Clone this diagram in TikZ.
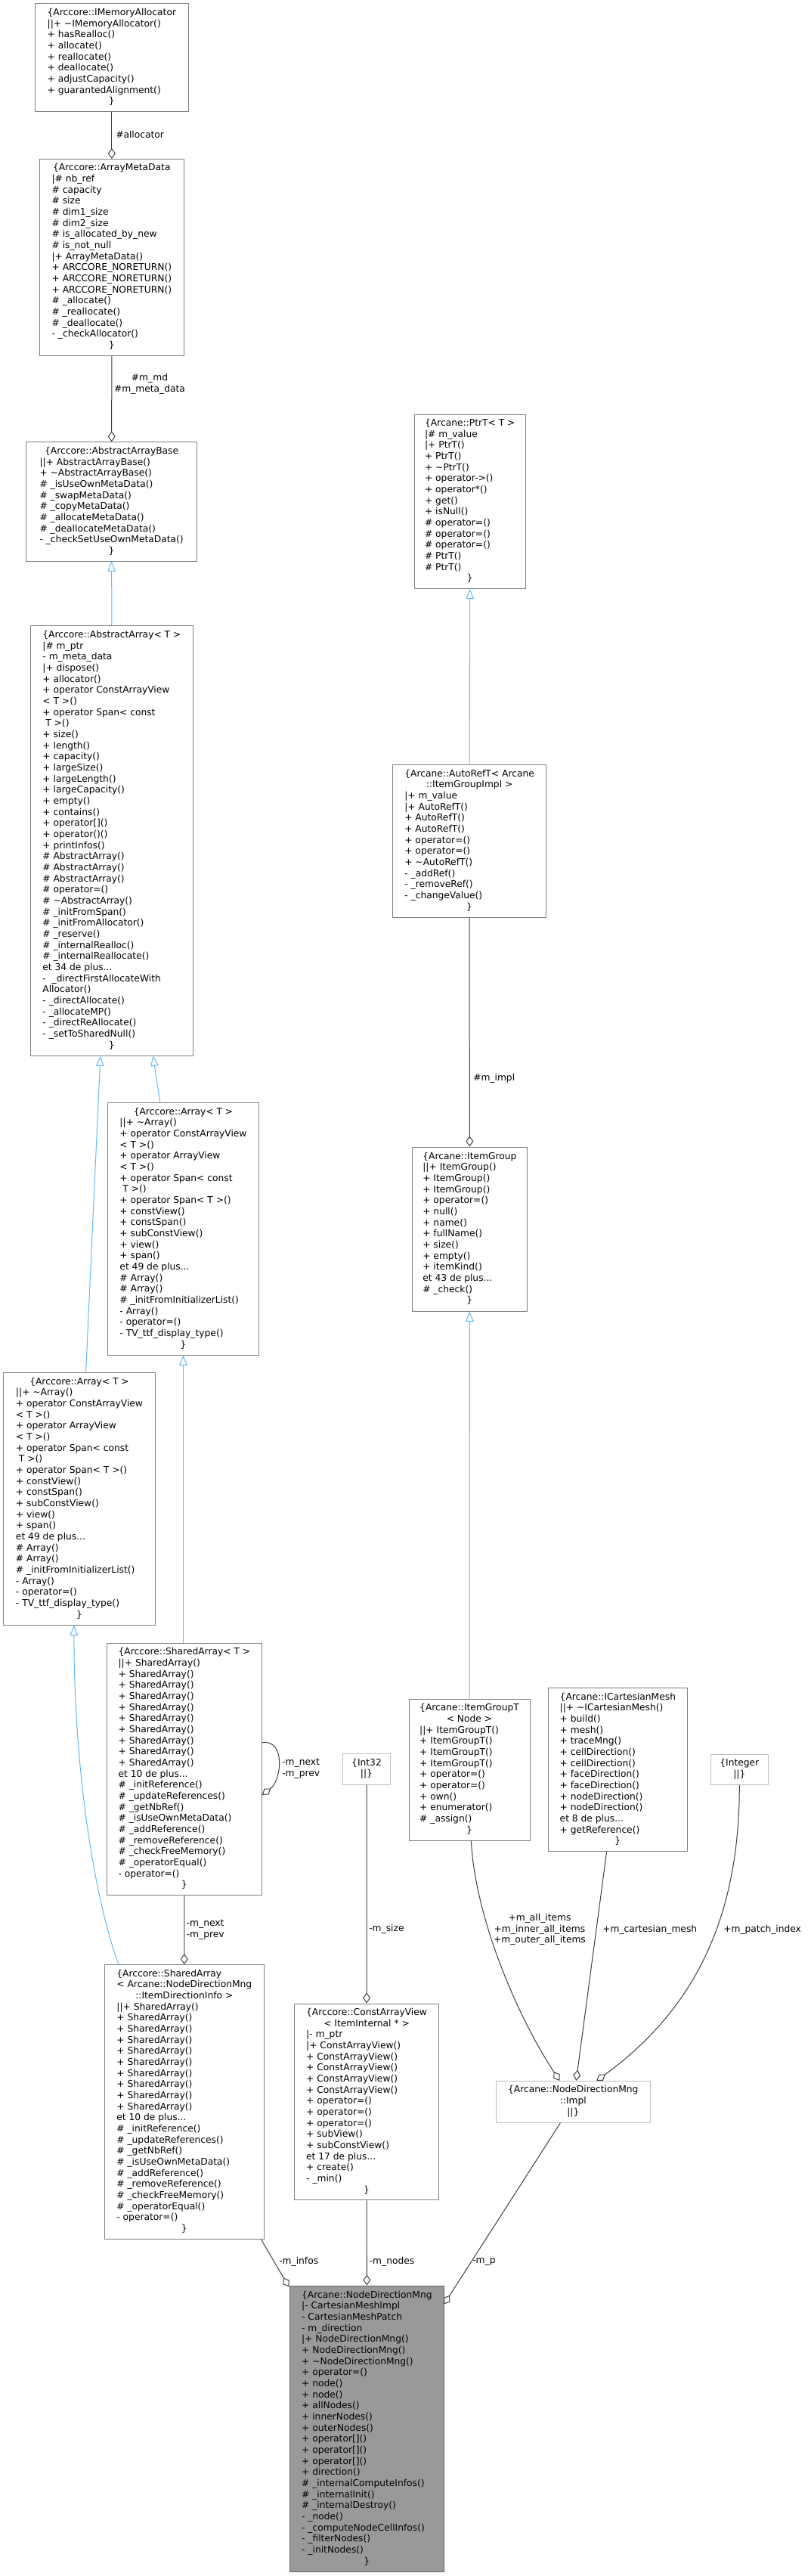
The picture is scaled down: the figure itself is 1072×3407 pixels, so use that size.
\documentclass[tikz,border=0pt]{standalone}
\usepackage{fontspec}
\setmainfont{DejaVu Sans}
\usetikzlibrary{arrows.meta,calc}
\definecolor{edgegray}{HTML}{404040}
\definecolor{inhblue}{HTML}{63B8FF}
\definecolor{boxline}{HTML}{808080}
\definecolor{lightline}{HTML}{BFBFBF}
\definecolor{ndmfill}{HTML}{999999}
\definecolor{ndmline}{HTML}{666666}
\newcommand{\hc}[1]{\multicolumn{1}{@{}c@{}}{#1}}
\newcommand{\tld}{\textasciitilde}
\newcommand{\cbeg}{\begin{tabular}{@{}l@{}}}
\newcommand{\cend}{\end{tabular}}
\tikzset{
  txtfont/.style={font=\fontsize{9.2}{11}\selectfont},
  cls/.style={draw=boxline, line width=0.75pt, fill=white, inner sep=0pt, txtfont, text=black},
  clsl/.style={cls, draw=lightline},
  clsf/.style={cls, draw=ndmline, fill=ndmfill},
  sz/.style 2 args={minimum width=#1*0.75pt, minimum height=#2*0.75pt},
  usage/.style={draw=edgegray, line width=0.75pt, -{Diamond[open,length=10.5pt,width=7.5pt]}},
  inherit/.style={draw=inhblue, line width=0.75pt, -{Triangle[open,length=10pt,width=8pt]}},
  lbl/.style={inner sep=0pt, txtfont, text=black}
}
\begin{document}
\begin{tikzpicture}[x=0.75pt,y=-0.75pt]
\path[use as bounding box, fill=white] (0,0) rectangle (1072,3407);

% ---------- boxes ----------
\node[cls, sz={202.9}{142.7}] (ima) at (147.85,76.35) {\cbeg
\hc{\{Arccore::IMemoryAllocator}\\
||+ \tld IMemoryAllocator()\\
+ hasRealloc()\\
+ allocate()\\
+ reallocate()\\
+ deallocate()\\
+ adjustCapacity()\\
+ guarantedAlignment()\\
\hc{\}}\cend};

\node[cls, sz={190.7}{259.5}] (amd) at (147.85,340.25) {\cbeg
\hc{\{Arccore::ArrayMetaData}\\
|\# nb\_ref\\
\# capacity\\
\# size\\
\# dim1\_size\\
\# dim2\_size\\
\# is\_allocated\_by\_new\\
\# is\_not\_null\\
|+ ArrayMetaData()\\
+ ARCCORE\_NORETURN()\\
+ ARCCORE\_NORETURN()\\
+ ARCCORE\_NORETURN()\\
\# \_allocate()\\
\# \_reallocate()\\
\# \_deallocate()\\
- \_checkAllocator()\\
\hc{\}}\cend};

\node[cls, sz={226.1}{157.2}] (aab) at (147.65,663.4) {\cbeg
\hc{\{Arccore::AbstractArrayBase}\\
||+ AbstractArrayBase()\\
+ \tld AbstractArrayBase()\\
\# \_isUseOwnMetaData()\\
\# \_swapMetaData()\\
\# \_copyMetaData()\\
\# \_allocateMetaData()\\
\# \_deallocateMetaData()\\
- \_checkSetUseOwnMetaData()\\
\hc{\}}\cend};

\node[cls, sz={215}{568.3}] (aa) at (147.9,1111.85) {\cbeg
\hc{\{Arccore::AbstractArray< T >}\\
|\# m\_ptr\\
- m\_meta\_data\\
|+ dispose()\\
+ allocator()\\
+ operator ConstArrayView\\
< T >()\\
+ operator Span< const\\
\ T >()\\
+ size()\\
+ length()\\
+ capacity()\\
+ largeSize()\\
+ largeLength()\\
+ largeCapacity()\\
+ empty()\\
+ contains()\\
+ operator[]()\\
+ operator()()\\
+ printInfos()\\
\# AbstractArray()\\
\# AbstractArray()\\
\# AbstractArray()\\
\# operator=()\\
\# \tld AbstractArray()\\
\# \_initFromSpan()\\
\# \_initFromAllocator()\\
\# \_reserve()\\
\# \_internalRealloc()\\
\# \_internalReallocate()\\
et 34 de plus...\\
- \ \_directFirstAllocateWith\\
Allocator()\\
- \_directAllocate()\\
- \_allocateMP()\\
- \_directReAllocate()\\
- \_setToSharedNull()\\
\hc{\}}\cend};

\node[cls, sz={200}{333.7}] (arrR) at (242.5,1625.15) {\cbeg
\hc{\{Arccore::Array< T >}\\
||+ \tld Array()\\
+ operator ConstArrayView\\
< T >()\\
+ operator ArrayView\\
< T >()\\
+ operator Span< const\\
\ T >()\\
+ operator Span< T >()\\
+ constView()\\
+ constSpan()\\
+ subConstView()\\
+ view()\\
+ span()\\
et 49 de plus...\\
\# Array()\\
\# Array()\\
\# \_initFromInitializerList()\\
- Array()\\
- operator=()\\
- TV\_ttf\_display\_type()\\
\hc{\}}\cend};

\node[cls, sz={200.8}{333.7}] (arrL) at (105,1982.15) {\cbeg
\hc{\{Arccore::Array< T >}\\
||+ \tld Array()\\
+ operator ConstArrayView\\
< T >()\\
+ operator ArrayView\\
< T >()\\
+ operator Span< const\\
\ T >()\\
+ operator Span< T >()\\
+ constView()\\
+ constSpan()\\
+ subConstView()\\
+ view()\\
+ span()\\
et 49 de plus...\\
\# Array()\\
\# Array()\\
\# \_initFromInitializerList()\\
- Array()\\
- operator=()\\
- TV\_ttf\_display\_type()\\
\hc{\}}\cend};

\node[cls, sz={205}{333.3}] (saT) at (243.9,2339.75) {\cbeg
\hc{\{Arccore::SharedArray< T >}\\
||+ SharedArray()\\
+ SharedArray()\\
+ SharedArray()\\
+ SharedArray()\\
+ SharedArray()\\
+ SharedArray()\\
+ SharedArray()\\
+ SharedArray()\\
+ SharedArray()\\
+ SharedArray()\\
et 10 de plus...\\
\# \_initReference()\\
\# \_updateReferences()\\
\# \_getNbRef()\\
\# \_isUseOwnMetaData()\\
\# \_addReference()\\
\# \_removeReference()\\
\# \_checkFreeMemory()\\
\# \_operatorEqual()\\
- operator=()\\
\hc{\}}\cend};

\node[cls, sz={210.4}{362.8}] (saI) at (243.8,2780) {\cbeg
\{Arccore::SharedArray\\
\hc{< Arcane::NodeDirectionMng}\\
\hc{::ItemDirectionInfo >}\\
||+ SharedArray()\\
+ SharedArray()\\
+ SharedArray()\\
+ SharedArray()\\
+ SharedArray()\\
+ SharedArray()\\
+ SharedArray()\\
+ SharedArray()\\
+ SharedArray()\\
+ SharedArray()\\
et 10 de plus...\\
\# \_initReference()\\
\# \_updateReferences()\\
\# \_getNbRef()\\
\# \_isUseOwnMetaData()\\
\# \_addReference()\\
\# \_removeReference()\\
\# \_checkFreeMemory()\\
\# \_operatorEqual()\\
- operator=()\\
\hc{\}}\cend};

\node[clsf, sz={203.3}{378.7}] (ndm) at (485.35,3212.35) {\cbeg
\{Arcane::NodeDirectionMng\\
|- CartesianMeshImpl\\
- CartesianMeshPatch\\
- m\_direction\\
|+ NodeDirectionMng()\\
+ NodeDirectionMng()\\
+ \tld NodeDirectionMng()\\
+ operator=()\\
+ node()\\
+ node()\\
+ allNodes()\\
+ innerNodes()\\
+ outerNodes()\\
+ operator[]()\\
+ operator[]()\\
+ operator[]()\\
+ direction()\\
\# \_internalComputeInfos()\\
\# \_internalInit()\\
\# \_internalDestroy()\\
- \_node()\\
- \_computeNodeCellInfos()\\
- \_filterNodes()\\
- \_initNodes()\\
\hc{\}}\cend};

\node[clsl, sz={62.8}{41}] (int32) at (485,2339.5) {\cbeg
\hc{\{Int32}\\
\hc{||\}}\cend};

\node[clsl, sz={75.8}{40.7}] (integer) at (978.3,2340.35) {\cbeg
\hc{\{Integer}\\
\hc{||\}}\cend};

\node[cls, sz={191.5}{259.8}] (cav) at (485.05,2779.9) {\cbeg
\{Arccore::ConstArrayView\\
\hc{< ItemInternal * >}\\
|- m\_ptr\\
|+ ConstArrayView()\\
+ ConstArrayView()\\
+ ConstArrayView()\\
+ ConstArrayView()\\
+ ConstArrayView()\\
+ operator=()\\
+ operator=()\\
+ operator=()\\
+ subView()\\
+ subConstView()\\
et 17 de plus...\\
+ create()\\
- \_min()\\
\hc{\}}\cend};

\node[cls, sz={146.9}{230.4}] (ptrt) at (621.75,663.2) {\cbeg
\hc{\{Arcane::PtrT< T >}\\
|\# m\_value\\
|+ PtrT()\\
+ PtrT()\\
+ \tld PtrT()\\
+ operator->()\\
+ operator*()\\
+ get()\\
+ isNull()\\
\# operator=()\\
\# operator=()\\
\# operator=()\\
\# PtrT()\\
\# PtrT()\\
\hc{\}}\cend};

\node[cls, sz={203}{202.3}] (autoref) at (621.1,1112.15) {\cbeg
\{Arcane::AutoRefT< Arcane\\
\hc{::ItemGroupImpl >}\\
|+ m\_value\\
|+ AutoRefT()\\
+ AutoRefT()\\
+ AutoRefT()\\
+ operator=()\\
+ operator=()\\
+ \tld AutoRefT()\\
- \_addRef()\\
- \_removeRef()\\
- \_changeValue()\\
\hc{\}}\cend};

\node[cls, sz={152.1}{217}] (itemgroup) at (621.35,1625.5) {\cbeg
\hc{\{Arcane::ItemGroup}\\
||+ ItemGroup()\\
+ ItemGroup()\\
+ ItemGroup()\\
+ operator=()\\
+ null()\\
+ name()\\
+ fullName()\\
+ size()\\
+ empty()\\
+ itemKind()\\
et 43 de plus...\\
\# \_check()\\
\hc{\}}\cend};

\node[cls, sz={160}{187}] (itemgroupT) at (621,2340.5) {\cbeg
\{Arcane::ItemGroupT\\
\hc{< Node >}\\
||+ ItemGroupT()\\
+ ItemGroupT()\\
+ ItemGroupT()\\
+ ItemGroupT()\\
+ operator=()\\
+ operator=()\\
+ own()\\
+ enumerator()\\
\# \_assign()\\
\hc{\}}\cend};

\node[cls, sz={184.1}{216.4}] (icm) at (817.35,2340.6) {\cbeg
\hc{\{Arcane::ICartesianMesh}\\
||+ \tld ICartesianMesh()\\
+ build()\\
+ mesh()\\
+ traceMng()\\
+ cellDirection()\\
+ cellDirection()\\
+ faceDirection()\\
+ faceDirection()\\
+ nodeDirection()\\
+ nodeDirection()\\
et 8 de plus...\\
+ getReference()\\
\hc{\}}\cend};

\node[clsl, sz={204.2}{54.7}] (impl) at (758.3,2779.65) {\cbeg
\hc{\{Arcane::NodeDirectionMng}\\
\hc{::Impl}\\
\hc{||\}}\cend};

% ---------- connectors ----------
\draw[usage] (ima.south) -- (amd.north);
\draw[usage] (amd.south) -- (aab.north);
\draw[inherit] (aa.north) -- (aab.south);
\draw[inherit] ($(arrL.north)+(8.6,0)$) -- ($(aa.south)+(-15,0)$);
\draw[inherit] ($(arrR.north)+(-30.7,0)$) -- ($(aa.south)+(54.6,0)$);
\draw[inherit] (arrR.south |- saT.north) -- (arrR.south);
\draw[inherit] ($(saI.north)+(-86.8,0)$) .. controls +(-30,-80) and +(0,200) .. ($(arrL.south)+(-7.1,0)$);
\draw[usage] ($(saT.east)+(0,-35)$) .. controls +(31.6,-4.75) and +(25.6,-18.75) .. ($(saT.east)+(0,34)$);
\draw[usage] (saT.south) -- (saI.north);
\draw[usage] (int32.south) -- (cav.north);
\draw[usage] ($(saI.south east)+(-4,0)$) -- ($(ndm.north west)+(-1,2)$);
\draw[usage] (cav.south) -- (ndm.north);
\draw[usage] ($(impl.south)+(-16.8,0)$) -- ($(ndm.north east)+(0,25)$);
\draw[inherit] (autoref.north) -- (ptrt.south);
\draw[usage] (autoref.south) -- (itemgroup.north);
\draw[inherit] (itemgroupT.north) -- (itemgroup.south);
\draw[usage] ($(itemgroupT.south)+(2.4,0)$) .. controls +(4.6,96) and +(-60.3,-92.3) .. ($(impl.north)+(-18,0)$);
\draw[usage] ($(icm.south)+(-14.75,0)$) -- ($(impl.north)+(4,0)$);
\draw[usage] (integer.south) .. controls +(0,159.3) and +(140.6,-102.3) .. ($(impl.north)+(31.1,0)$);

% ---------- labels ----------
\node[lbl, anchor=west] (l1) at (153,178) {\#allocator};
\node[lbl, align=center] (l2) at (198,508) {\#m\_md\\\#m\_meta\_data};
\node[lbl, anchor=west, align=left] (l3) at (373,2339) {-m\_next\\-m\_prev};
\node[lbl, anchor=west, align=left] (l4) at (246.5,2552) {-m\_next\\-m\_prev};
\node[lbl, anchor=west] (l5) at (488,2551.5) {-m\_size};
\node[lbl, anchor=west] (l6) at (626,1426.6) {\#m\_impl};
\node[lbl, align=center] (l7) at (714,2552) {+m\_all\_items\\+m\_inner\_all\_items\\+m\_outer\_all\_items};
\node[lbl, anchor=west] (l8) at (797,2552) {+m\_cartesian\_mesh};
\node[lbl, anchor=west] (l9) at (957,2552) {+m\_patch\_index};
\node[lbl, anchor=west] (l10) at (369,2991.5) {-m\_infos};
\node[lbl, anchor=west] (l11) at (488.5,2991.5) {-m\_nodes};
\node[lbl, anchor=west] (l12) at (625,2991.5) {-m\_p};
\end{tikzpicture}
\end{document}
